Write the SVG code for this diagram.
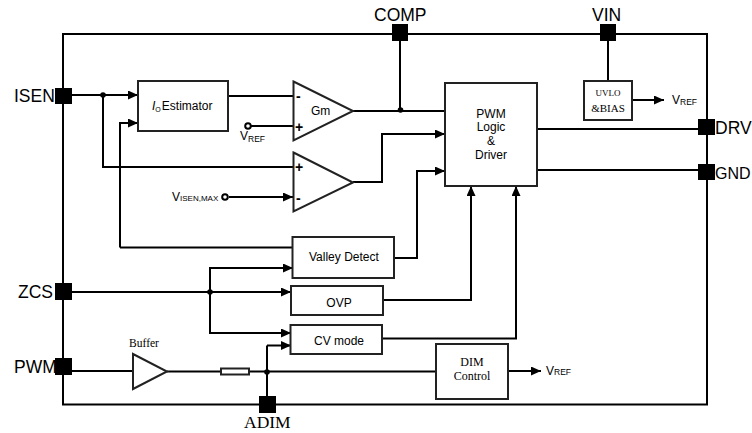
<svg xmlns="http://www.w3.org/2000/svg" width="752" height="433" viewBox="0 0 752 433">
<style>
.s{font-family:"Liberation Sans",Arial,sans-serif;fill:#000}
.t{font-family:"Liberation Serif","Times New Roman",serif;fill:#000}
.pin{font-size:17.5px}
.lab{font-size:12px}
.box{fill:#fff;stroke:#222;stroke-width:2}
.w{fill:none;stroke:#000;stroke-width:2}
.ww{fill:none;stroke:#000;stroke-width:2;marker-end:url(#a)}
.p{fill:#000}
.o{fill:#fff;stroke:#000;stroke-width:2}
</style>
<defs>
<marker id="a" markerUnits="userSpaceOnUse" markerWidth="11" markerHeight="10" refX="10" refY="4.500" orient="auto"><path d="M0 0L10 4.500L0 9Z" fill="#000"/></marker>
</defs>
<rect width="752" height="433" fill="#fff"/>
<g id="connectors">
<path class="w" d="M63 34H707V404.500H63Z"/>
<path class="ww" d="M72 95H138"/>
<path class="w" d="M103 95V167H294"/>
<path class="ww" d="M120 247.500V123H138"/>
<path class="w" d="M120 247.500H293"/>
<path class="w" d="M228 96H294"/>
<path class="w" d="M251 126H294"/>
<path class="ww" d="M229 197H293"/>
<path class="w" d="M353 111H445"/>
<path class="w" d="M400 40V111"/>
<path class="ww" d="M353 182H382V134H445"/>
<path class="ww" d="M394 258H417V171H445"/>
<path class="ww" d="M383 300H471V186"/>
<path class="ww" d="M382 338.500H516V186"/>
<path class="w" d="M538 129H698"/>
<path class="w" d="M538 170H698"/>
<path class="w" d="M608 40V81"/>
<path class="ww" d="M632 100H664"/>
<path class="w" d="M72 292H210"/>
<path class="ww" d="M210 292H291"/>
<path class="ww" d="M210 292V268H293"/>
<path class="ww" d="M210 292V333H291"/>
<path class="w" d="M72 371H133"/>
<path class="w" d="M167 371.500H221M249 371.500H436"/>
<path class="w" d="M267 396V345.500"/>
<path class="ww" d="M267 345.500H291"/>
<path class="ww" d="M508 371H541"/>
<circle class="p" cx="103" cy="95" r="2.800"/>
<circle class="p" cx="400.500" cy="110" r="2.800"/>
<circle class="p" cx="210" cy="292" r="2.800"/>
<circle class="p" cx="267" cy="372" r="2.800"/>
</g>
<g id="pin-isen"><rect class="p" x="55" y="88" width="17" height="16"/><text class="s pin" x="14" y="102">ISEN</text></g>
<g id="pin-comp"><rect class="p" x="392" y="24" width="16" height="17"/><text class="s pin" x="374" y="21">COMP</text></g>
<g id="pin-vin"><rect class="p" x="600" y="24" width="16" height="17"/><text class="s pin" x="592" y="21">VIN</text></g>
<g id="pin-drv"><rect class="p" x="698" y="119" width="17" height="16"/><text class="s pin" x="715" y="134">DRV</text></g>
<g id="pin-gnd"><rect class="p" x="698" y="164" width="17" height="16"/><text class="s" font-size="16" x="715" y="179">GND</text></g>
<g id="pin-zcs"><rect class="p" x="55" y="283" width="17" height="17"/><text class="s pin" x="18" y="298">ZCS</text></g>
<g id="pin-pwm"><rect class="p" x="55" y="358" width="17" height="17"/><text class="s pin" x="14" y="373">PWM</text></g>
<g id="pin-adim"><rect class="p" x="259" y="396" width="17" height="17"/><text class="t" font-size="17.500" x="244" y="428">ADIM</text></g>
<g id="estimator"><rect class="box" x="138" y="81" width="90" height="50"/><text class="s lab" x="152" y="110"><tspan font-style="italic">I</tspan><tspan font-size="7" dy="2">O</tspan><tspan dy="-2" dx="1">Estimator</tspan></text></g>
<g id="gm"><path class="box" d="M293.500 81.500L353 111L293.500 140.500Z"/><text class="s lab" x="311" y="115">Gm</text><text class="s" font-size="14" font-weight="bold" x="296" y="101">-</text><text class="s" font-size="14" font-weight="bold" x="295" y="132">+</text></g>
<g id="vref-gm"><circle class="o" cx="248" cy="126" r="2.800"/><text class="s" font-size="12" x="240" y="140">V<tspan font-size="8.500" dy="2">REF</tspan></text></g>
<g id="comparator"><path class="box" d="M293.500 152.500L353 182.500L293.500 211.500Z"/><text class="s" font-size="14" font-weight="bold" x="295" y="172">+</text><text class="s" font-size="14" font-weight="bold" x="296" y="203">-</text></g>
<g id="visen-max"><circle class="o" cx="225" cy="197" r="2.800"/><text class="s" font-size="12" x="172" y="201">V<tspan font-size="8">ISEN,MAX</tspan></text></g>
<g id="pwm-logic"><rect class="box" x="445" y="83" width="92" height="103"/><text class="s lab" text-anchor="middle" x="491" y="118">PWM</text><text class="s lab" text-anchor="middle" x="491" y="131">Logic</text><text class="s lab" text-anchor="middle" x="491" y="145">&amp;</text><text class="s lab" text-anchor="middle" x="491" y="159">Driver</text></g>
<g id="uvlo"><rect class="box" x="584" y="81" width="48" height="39"/><text class="t" font-size="9" text-anchor="middle" x="608" y="96">UVLO</text><text class="t" font-size="11" text-anchor="middle" x="608" y="112">&amp;BIAS</text></g>
<g id="vref-uvlo"><text class="s" font-size="12" x="672" y="104">V<tspan font-size="8.500" dy="1">REF</tspan></text></g>
<g id="valley"><rect class="box" x="292.500" y="237" width="101.500" height="41"/><text class="s lab" x="309" y="261">Valley Detect</text></g>
<g id="ovp"><rect class="box" x="291" y="286" width="92" height="29"/><text class="s lab" text-anchor="middle" x="339" y="307">OVP</text></g>
<g id="cv"><rect class="box" x="290.500" y="325" width="91.500" height="29"/><text class="s lab" text-anchor="middle" x="339" y="345">CV mode</text></g>
<g id="buffer"><path class="box" d="M133 354L167 371.500L133 389Z"/><text class="t" font-size="11.500" text-anchor="middle" x="144" y="347">Buffer</text></g>
<g id="resistor"><rect class="box" x="221" y="368.500" width="28" height="6"/></g>
<g id="dim"><rect class="box" x="436" y="344" width="72" height="55"/><text class="t" font-size="12" text-anchor="middle" x="472" y="366">DIM</text><text class="t" font-size="12" text-anchor="middle" x="472" y="380">Control</text></g>
<g id="vref-dim"><text class="s" font-size="12" x="546" y="375">V<tspan font-size="8.500">REF</tspan></text></g>
</svg>
